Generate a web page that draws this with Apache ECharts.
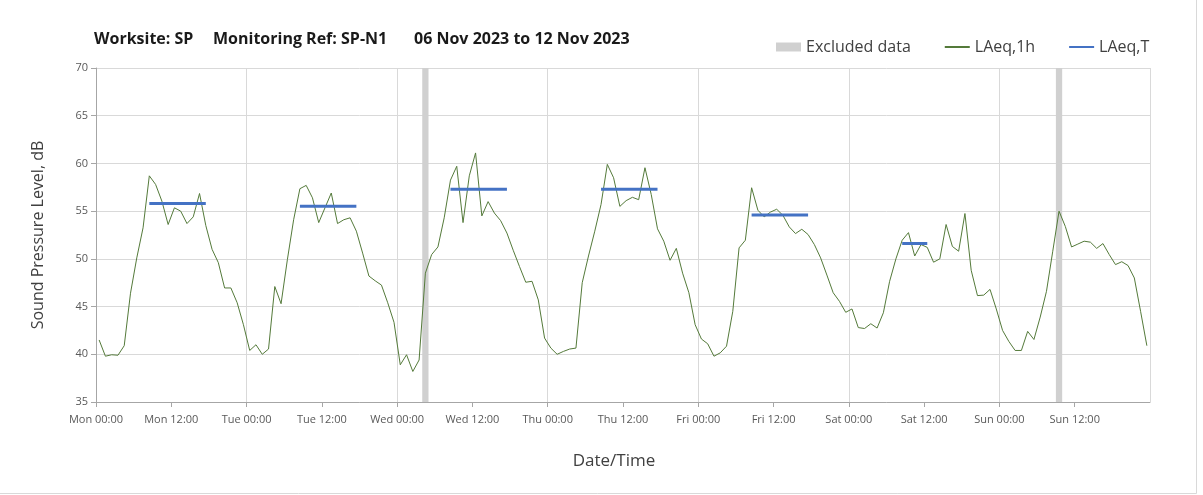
<!DOCTYPE html>
<html>
<head>
<meta charset="utf-8">
<script src="https://cdn.jsdelivr.net/npm/echarts@6/dist/echarts.min.js"></script>
<style>
  html, body { margin: 0; padding: 0; background: #ffffff; }
  #chart { width: 1203px; height: 495px; }
</style>
</head>
<body>
<div id="chart"></div>
<script>
// Hourly LAeq,1h levels (dB), Mon 00:00 to Sun 23:00, one value per hour
const laeq1h = [
  41.5, 39.8, 39.95, 39.9, 40.9, 46.4, 50.1, 53.25, 58.7, 57.8, 56.05, 53.6, 55.35, 55.0, 53.7, 54.4, 56.85, 53.5,
  51.0, 49.6, 46.95, 46.95, 45.4, 43.1, 40.4, 41.0, 40.0, 40.55, 47.1, 45.3, 49.9, 54.1,
  57.35, 57.7, 56.4, 53.8, 55.35, 56.9, 53.7, 54.1, 54.3, 52.9, 50.6, 48.2, 47.7, 47.25, 45.4, 43.35, 38.9, 39.95, 38.2,
  39.4, 48.5, 50.45, 51.25, 54.3, 58.25, 59.7, 53.8, 58.7, 61.1, 54.5, 56.0, 54.8, 54.0, 52.7, 50.9, 49.2,
  47.55, 47.65, 45.7, 41.7, 40.65, 40.0, 40.3, 40.55, 40.65, 47.5, 50.3, 52.9, 55.7, 59.9, 58.5, 55.5,
  56.1, 56.45, 56.2, 59.55, 56.75, 53.15, 51.85, 49.85, 51.1, 48.5, 46.45, 43.1, 41.6, 41.1, 39.8, 40.15, 40.85,
  44.5, 51.15, 51.95, 57.45, 55.1, 54.4, 54.9, 55.2, 54.55, 53.35, 52.65, 53.1, 52.55, 51.5, 50.1, 48.3, 46.45,
  45.55, 44.4, 44.75, 42.8, 42.7, 43.2, 42.75, 44.35, 47.65, 50.0, 51.95, 52.75, 50.3, 51.5, 51.2, 49.65, 50.0,
  53.6, 51.3, 50.8, 54.75, 48.8, 46.15, 46.2, 46.8, 44.75, 42.5, 41.35, 40.4, 40.4, 42.4, 41.55, 43.9,
  46.6, 50.8, 55.0, 53.4, 51.25, 51.55, 51.85, 51.75, 51.1, 51.6, 50.45, 49.4, 49.7, 49.3, 48.0, 44.5, 40.9
];

// Daytime assessment periods: first and last hour index, and LAeq,T (dB)
const periodStart = [8, 32, 56, 80, 104, 128];
const periodEnd   = [17, 41, 65, 89, 113, 132];
const periodLevel = [55.8, 55.5, 57.3, 57.3, 54.6, 51.6];

// Hours flagged as excluded data
const excludedHours = [52, 153];

// Axis tick labels
const dayNames = ['Mon', 'Tue', 'Wed', 'Thu', 'Fri', 'Sat', 'Sun', 'Mon'];
const yMin = 35, yMax = 70, yStep = 5;
const hoursInWeek = 168;

const FONT = '"Open Sans", Lato, sans-serif';
const AXIS_TEXT = '#595959';
const GRID_COLOR = '#d9d9d9';
const AXIS_COLOR = '#a6a6a6';
const LINE_GREEN = '#547a3a';
const LINE_BLUE = '#4472c4';
const EXCLUDED_GREY = '#d0d0d0';

const chart = echarts.init(document.getElementById('chart'), null, { renderer: 'canvas' });

// Each hourly value is centred in its hour slot
const hourlyPoints = laeq1h.map((v, h) => [h + 0.5, v]);

const periodSeries = periodStart.map((s, i) => ({
  name: 'LAeq,T',
  type: 'line',
  symbol: 'none',
  z: 4,
  lineStyle: { color: LINE_BLUE, width: 3 },
  itemStyle: { color: LINE_BLUE },
  data: [[s + 0.5, periodLevel[i]], [periodEnd[i] + 0.5, periodLevel[i]]],
  silent: true
}));

const option = {
  backgroundColor: '#ffffff',
  animation: false,
  // chart-area frame
  graphic: [{
    type: 'rect',
    silent: true,
    shape: { x: -1.5, y: -1.5, width: 1198, height: 495 },
    style: { fill: 'none', stroke: GRID_COLOR, lineWidth: 1 }
  }],
  title: [
    { text: 'Worksite: SP', left: 94, top: 31 },
    { text: 'Monitoring Ref: SP-N1', left: 213, top: 31 },
    { text: '06 Nov 2023 to 12 Nov 2023', left: 414, top: 31 }
  ].map(t => Object.assign(t, {
    padding: 0,
    textStyle: { fontFamily: FONT, fontSize: 16, fontWeight: 'bold', color: '#1a1a1a' }
  })),
  legend: {
    left: 771,
    top: 34,
    itemWidth: 25,
    itemHeight: 9,
    itemGap: 33,
    textStyle: { fontFamily: FONT, fontSize: 16, color: '#404040' },
    data: [
      { name: 'Excluded data', icon: 'rect', itemStyle: { color: EXCLUDED_GREY } },
      { name: 'LAeq,1h', itemStyle: { opacity: 0 } },
      { name: 'LAeq,T', itemStyle: { opacity: 0 } }
    ]
  },
  grid: { left: 96, right: 53, top: 68, bottom: 93, containLabel: false },
  xAxis: [
    {
      type: 'value',
      min: 0,
      max: hoursInWeek,
      interval: 12,
      name: 'Date/Time',
      nameLocation: 'middle',
      nameGap: 51,
      nameTextStyle: { fontFamily: FONT, fontSize: 17, color: '#404040', padding: [0, 18, 0, 0] },
      axisLine: { show: true, onZero: false, lineStyle: { color: AXIS_COLOR, width: 1 } },
      axisTick: { show: true, length: 5, lineStyle: { color: AXIS_COLOR } },
      axisLabel: {
        fontFamily: FONT, fontSize: 11, color: AXIS_TEXT, margin: 12,
        showMaxLabel: false,
        formatter: v => {
          if (v >= hoursInWeek) return '';
          return dayNames[Math.floor(v / 24)] + (v % 24 === 0 ? ' 00:00' : ' 12:00');
        }
      },
      splitLine: { show: false }
    },
    {
      // daily vertical gridlines only
      type: 'value',
      min: 0,
      max: hoursInWeek,
      interval: 24,
      position: 'bottom',
      axisLine: { show: false },
      axisTick: { show: false },
      axisLabel: { show: false },
      splitLine: { show: true, lineStyle: { color: GRID_COLOR, width: 1 } }
    }
  ],
  yAxis: {
    type: 'value',
    min: yMin,
    max: yMax,
    interval: yStep,
    name: 'Sound Pressure Level, dB',
    nameLocation: 'middle',
    nameGap: 50,
    nameTextStyle: { fontFamily: FONT, fontSize: 16, color: '#404040' },
    axisLine: { show: true, lineStyle: { color: AXIS_COLOR, width: 1 } },
    axisTick: { show: true, length: 5, lineStyle: { color: AXIS_COLOR } },
    axisLabel: { fontFamily: FONT, fontSize: 11, color: AXIS_TEXT, margin: 8 },
    splitLine: { show: true, lineStyle: { color: GRID_COLOR, width: 1 } }
  },
  series: [
    {
      name: 'Excluded data',
      type: 'custom',
      z: 2,
      itemStyle: { color: EXCLUDED_GREY },
      data: excludedHours.map(h => [h]),
      renderItem: (params, api) => {
        const h = api.value(0);
        const p1 = api.coord([h, yMax]);
        const p2 = api.coord([h + 1, yMin]);
        return {
          type: 'rect',
          shape: { x: p1[0], y: p1[1], width: p2[0] - p1[0], height: p2[1] - p1[1] },
          style: { fill: EXCLUDED_GREY }
        };
      },
      silent: true
    },
    {
      name: 'LAeq,1h',
      type: 'line',
      symbol: 'none',
      z: 3,
      lineStyle: { color: LINE_GREEN, width: 1 },
      itemStyle: { color: LINE_GREEN },
      data: hourlyPoints,
      silent: true
    },
    ...periodSeries
  ]
};

chart.setOption(option);
</script>
</body>
</html>
